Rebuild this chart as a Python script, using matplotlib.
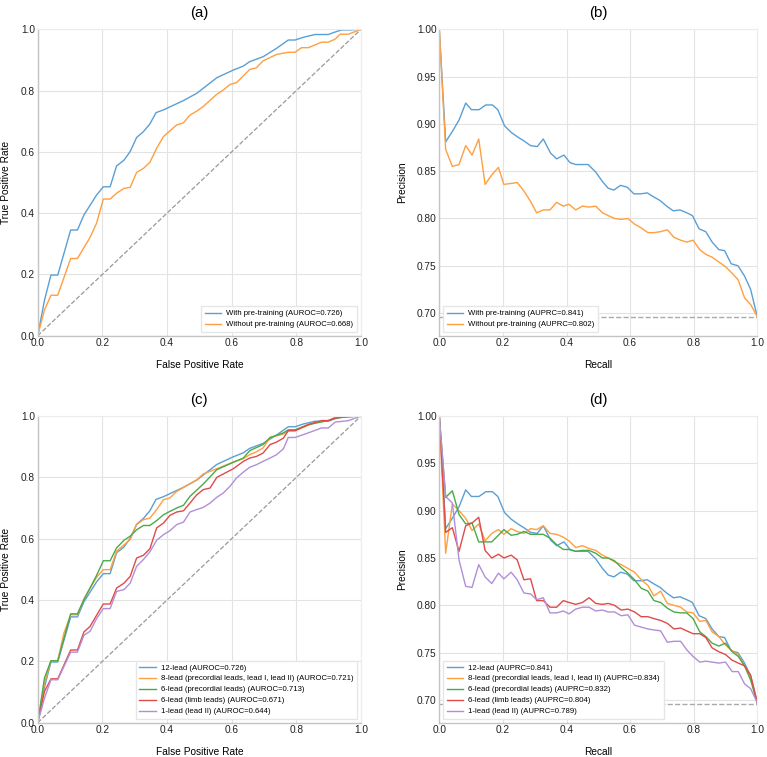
import numpy as np
import matplotlib
matplotlib.use("Agg")
import matplotlib.pyplot as plt

plt.rcParams['font.family'] = ['Liberation Sans', 'DejaVu Sans']

# ---------------- ROC data ----------------
roc_12_fpr = [0, 0.021, 0.041, 0.062, 0.102, 0.123, 0.143, 0.182, 0.203, 0.224, 0.244, 0.267, 0.286, 0.306, 0.327, 0.347, 0.366, 0.389, 0.45, 0.492, 0.554, 0.605, 0.636, 0.655, 0.698, 0.739, 0.775, 0.796, 0.822, 0.858, 0.899, 0.914, 0.940, 0.966, 1.0]
roc_12_tpr = [0, 0.116, 0.198, 0.198, 0.345, 0.345, 0.394, 0.459, 0.486, 0.486, 0.554, 0.573, 0.601, 0.647, 0.666, 0.691, 0.728, 0.737, 0.767, 0.791, 0.842, 0.867, 0.880, 0.894, 0.911, 0.938, 0.965, 0.965, 0.974, 0.983, 0.983, 0.989, 0.998, 0.998, 1.0]

roc_np_fpr = [0, 0.021, 0.041, 0.062, 0.081, 0.102, 0.123, 0.162, 0.182, 0.203, 0.224, 0.244, 0.267, 0.286, 0.306, 0.327, 0.347, 0.368, 0.389, 0.430, 0.451, 0.471, 0.492, 0.512, 0.554, 0.574, 0.595, 0.615, 0.656, 0.676, 0.697, 0.739, 0.775, 0.796, 0.816, 0.837, 0.878, 0.899, 0.920, 0.935, 0.961, 1.0]
roc_np_tpr = [0, 0.084, 0.132, 0.132, 0.189, 0.252, 0.252, 0.321, 0.367, 0.446, 0.446, 0.465, 0.481, 0.484, 0.533, 0.546, 0.566, 0.612, 0.650, 0.688, 0.695, 0.720, 0.733, 0.748, 0.788, 0.802, 0.820, 0.826, 0.869, 0.874, 0.897, 0.918, 0.925, 0.925, 0.940, 0.940, 0.958, 0.958, 0.968, 0.984, 0.984, 1.0]

roc_8_fpr = [0, 0.021, 0.041, 0.062, 0.081, 0.102, 0.123, 0.143, 0.182, 0.203, 0.224, 0.244, 0.267, 0.286, 0.306, 0.327, 0.347, 0.368, 0.389, 0.409, 0.430, 0.451, 0.492, 0.512, 0.554, 0.605, 0.636, 0.656, 0.676, 0.697, 0.719, 0.760, 0.775, 0.796, 0.837, 0.878, 0.899, 0.920, 0.961, 1.0]
roc_8_tpr = [0, 0.130, 0.202, 0.202, 0.292, 0.352, 0.352, 0.404, 0.474, 0.499, 0.499, 0.559, 0.580, 0.597, 0.646, 0.662, 0.667, 0.695, 0.727, 0.733, 0.754, 0.767, 0.792, 0.811, 0.828, 0.850, 0.861, 0.874, 0.883, 0.896, 0.930, 0.941, 0.952, 0.952, 0.970, 0.985, 0.985, 0.996, 0.998, 1.0]

roc_6p_fpr = [0, 0.021, 0.041, 0.062, 0.102, 0.123, 0.143, 0.182, 0.203, 0.224, 0.244, 0.267, 0.286, 0.306, 0.327, 0.347, 0.368, 0.389, 0.409, 0.430, 0.451, 0.471, 0.512, 0.554, 0.605, 0.636, 0.656, 0.697, 0.719, 0.760, 0.775, 0.796, 0.837, 0.899, 0.920, 0.961, 1.0]
roc_6p_tpr = [0, 0.146, 0.202, 0.202, 0.355, 0.355, 0.401, 0.480, 0.528, 0.528, 0.570, 0.595, 0.608, 0.629, 0.643, 0.643, 0.659, 0.678, 0.689, 0.700, 0.709, 0.738, 0.778, 0.825, 0.849, 0.863, 0.887, 0.907, 0.930, 0.945, 0.955, 0.955, 0.972, 0.985, 0.993, 0.998, 1.0]

roc_6l_fpr = [0, 0.021, 0.041, 0.062, 0.102, 0.123, 0.143, 0.162, 0.182, 0.203, 0.224, 0.244, 0.267, 0.286, 0.306, 0.327, 0.347, 0.368, 0.389, 0.409, 0.430, 0.451, 0.471, 0.492, 0.512, 0.533, 0.554, 0.574, 0.605, 0.636, 0.656, 0.676, 0.697, 0.719, 0.739, 0.760, 0.775, 0.796, 0.837, 0.878, 0.899, 0.920, 0.961, 1.0]
roc_6l_tpr = [0, 0.102, 0.143, 0.143, 0.237, 0.237, 0.296, 0.314, 0.350, 0.387, 0.387, 0.439, 0.455, 0.477, 0.537, 0.546, 0.567, 0.635, 0.651, 0.676, 0.687, 0.691, 0.716, 0.743, 0.760, 0.765, 0.800, 0.811, 0.828, 0.852, 0.863, 0.868, 0.879, 0.907, 0.915, 0.928, 0.952, 0.952, 0.972, 0.985, 0.985, 0.993, 0.998, 1.0]

roc_1_fpr = [0, 0.021, 0.041, 0.062, 0.102, 0.123, 0.143, 0.162, 0.182, 0.203, 0.224, 0.244, 0.267, 0.286, 0.306, 0.327, 0.347, 0.368, 0.389, 0.409, 0.430, 0.451, 0.471, 0.492, 0.512, 0.533, 0.554, 0.574, 0.595, 0.615, 0.636, 0.656, 0.676, 0.697, 0.719, 0.739, 0.760, 0.775, 0.796, 0.837, 0.878, 0.899, 0.920, 0.961, 1.0]
roc_1_tpr = [0, 0.080, 0.140, 0.140, 0.230, 0.230, 0.285, 0.298, 0.339, 0.372, 0.372, 0.428, 0.434, 0.455, 0.510, 0.532, 0.557, 0.595, 0.613, 0.626, 0.646, 0.654, 0.687, 0.695, 0.702, 0.716, 0.735, 0.749, 0.771, 0.798, 0.817, 0.833, 0.841, 0.852, 0.863, 0.874, 0.893, 0.930, 0.930, 0.945, 0.961, 0.961, 0.980, 0.985, 1.0]

# ---------------- PR data ----------------
pr_12_rec = [0, 0.020, 0.041, 0.062, 0.083, 0.101, 0.125, 0.146, 0.167, 0.184, 0.205, 0.226, 0.247, 0.266, 0.287, 0.308, 0.327, 0.350, 0.369, 0.392, 0.411, 0.429, 0.468, 0.492, 0.513, 0.531, 0.549, 0.570, 0.591, 0.612, 0.633, 0.654, 0.673, 0.694, 0.715, 0.736, 0.757, 0.778, 0.796, 0.817, 0.838, 0.858, 0.879, 0.897, 0.918, 0.939, 0.960, 0.979, 1.0]
pr_12_prec = [1.0, 0.881, 0.892, 0.904, 0.922, 0.915, 0.915, 0.920, 0.920, 0.915, 0.898, 0.891, 0.886, 0.882, 0.877, 0.876, 0.884, 0.869, 0.863, 0.867, 0.859, 0.857, 0.857, 0.849, 0.839, 0.832, 0.830, 0.835, 0.833, 0.826, 0.826, 0.827, 0.823, 0.819, 0.813, 0.808, 0.809, 0.806, 0.803, 0.789, 0.786, 0.775, 0.767, 0.766, 0.752, 0.750, 0.739, 0.725, 0.696]

pr_np_rec = [0, 0.020, 0.041, 0.062, 0.083, 0.103, 0.124, 0.144, 0.165, 0.186, 0.203, 0.226, 0.245, 0.266, 0.287, 0.306, 0.327, 0.348, 0.369, 0.390, 0.408, 0.429, 0.450, 0.471, 0.492, 0.513, 0.531, 0.551, 0.572, 0.593, 0.614, 0.635, 0.656, 0.675, 0.696, 0.717, 0.738, 0.759, 0.778, 0.798, 0.819, 0.838, 0.858, 0.879, 0.900, 0.921, 0.940, 0.960, 0.979, 1.0]
pr_np_prec = [1.0, 0.873, 0.855, 0.857, 0.877, 0.867, 0.884, 0.836, 0.846, 0.854, 0.836, 0.837, 0.838, 0.829, 0.818, 0.806, 0.809, 0.809, 0.817, 0.813, 0.815, 0.809, 0.813, 0.812, 0.813, 0.806, 0.803, 0.800, 0.799, 0.800, 0.794, 0.790, 0.785, 0.785, 0.786, 0.788, 0.780, 0.777, 0.775, 0.777, 0.767, 0.762, 0.759, 0.754, 0.749, 0.742, 0.735, 0.716, 0.709, 0.696]

pr_rec = [0, 0.020, 0.041, 0.062, 0.083, 0.103, 0.124, 0.144, 0.165, 0.186, 0.203, 0.226, 0.245, 0.266, 0.287, 0.306, 0.327, 0.348, 0.369, 0.390, 0.408, 0.429, 0.450, 0.471, 0.492, 0.513, 0.531, 0.551, 0.572, 0.593, 0.614, 0.635, 0.656, 0.675, 0.696, 0.717, 0.738, 0.759, 0.778, 0.798, 0.819, 0.838, 0.858, 0.879, 0.900, 0.921, 0.940, 0.960, 0.979, 1.0]
pr_8_prec = [1.0, 0.855, 0.907, 0.900, 0.892, 0.879, 0.886, 0.868, 0.876, 0.880, 0.875, 0.881, 0.878, 0.876, 0.881, 0.880, 0.884, 0.876, 0.875, 0.872, 0.868, 0.861, 0.863, 0.860, 0.858, 0.853, 0.850, 0.846, 0.843, 0.839, 0.835, 0.827, 0.821, 0.810, 0.815, 0.802, 0.800, 0.798, 0.793, 0.792, 0.783, 0.784, 0.772, 0.767, 0.758, 0.752, 0.748, 0.736, 0.726, 0.697]
pr_6p_prec = [1.0, 0.914, 0.921, 0.896, 0.886, 0.887, 0.867, 0.867, 0.867, 0.874, 0.880, 0.874, 0.875, 0.878, 0.875, 0.875, 0.875, 0.871, 0.864, 0.859, 0.859, 0.857, 0.858, 0.858, 0.855, 0.850, 0.850, 0.847, 0.840, 0.834, 0.827, 0.818, 0.815, 0.805, 0.803, 0.797, 0.793, 0.792, 0.792, 0.786, 0.772, 0.767, 0.760, 0.757, 0.760, 0.751, 0.746, 0.736, 0.721, 0.697]
pr_6l_prec = [1.0, 0.877, 0.882, 0.857, 0.884, 0.887, 0.893, 0.858, 0.850, 0.854, 0.850, 0.853, 0.848, 0.827, 0.828, 0.805, 0.805, 0.798, 0.798, 0.805, 0.803, 0.801, 0.803, 0.808, 0.802, 0.801, 0.802, 0.800, 0.795, 0.796, 0.793, 0.788, 0.788, 0.786, 0.784, 0.781, 0.775, 0.776, 0.773, 0.770, 0.770, 0.766, 0.755, 0.751, 0.748, 0.742, 0.739, 0.736, 0.726, 0.697]
pr_1_prec = [1.0, 0.915, 0.908, 0.848, 0.820, 0.819, 0.843, 0.830, 0.823, 0.834, 0.828, 0.835, 0.827, 0.813, 0.812, 0.806, 0.808, 0.792, 0.792, 0.794, 0.791, 0.796, 0.798, 0.798, 0.794, 0.795, 0.793, 0.793, 0.789, 0.790, 0.779, 0.777, 0.775, 0.774, 0.773, 0.761, 0.762, 0.762, 0.753, 0.746, 0.740, 0.741, 0.740, 0.739, 0.740, 0.730, 0.730, 0.717, 0.712, 0.697]

baseline = 0.696

labels_ab = ["With pre-training", "Without pre-training"]
auroc_ab = [0.726, 0.668]
auprc_ab = [0.841, 0.802]
labels_cd = ["12-lead", "8-lead (precordial leads, lead I, lead II)", "6-lead (precordial leads)",
             "6-lead (limb leads)", "1-lead (lead II)"]
auroc_cd = [0.726, 0.721, 0.713, 0.671, 0.644]
auprc_cd = [0.841, 0.834, 0.832, 0.804, 0.789]

colors = ['#5a9fd4', '#ff9f3f', '#4aaa4a', '#e04a4a', '#b08fd8']

TICK_FS = 7.3
LABEL_FS = 7.3
TITLE_FS = 10.8
LEG_FS = 5.6

fig = plt.figure(figsize=(7.67, 7.57), dpi=100)
W, H = 767.0, 757.0


def make_ax(l, r, t, b):
    return fig.add_axes([l / W, 1 - b / H, (r - l) / W, (b - t) / H])


axA = make_ax(37.7, 361.0, 29.3, 335.7)
axB = make_ax(439.3, 757.3, 29.3, 335.7)
axC = make_ax(37.7, 361.0, 416.0, 722.7)
axD = make_ax(439.3, 757.3, 416.0, 722.7)


def style(ax, title, xlabel, ylabel, ylabelpad):
    ax.set_facecolor('white')
    ax.grid(True, color='#e3e3e3', linewidth=0.8)
    ax.set_axisbelow(True)
    for s in ['left', 'bottom']:
        ax.spines[s].set_color('#c4c4c4')
        ax.spines[s].set_linewidth(1.0)
    for s in ['top', 'right']:
        ax.spines[s].set_color('#ececec')
        ax.spines[s].set_linewidth(0.8)
    ax.tick_params(length=0, labelsize=TICK_FS, pad=2, colors='#222222')
    ax.set_title(title, fontsize=TITLE_FS, pad=9)
    ax.set_xlabel(xlabel, fontsize=LABEL_FS, labelpad=8)
    ax.set_ylabel(ylabel, fontsize=LABEL_FS, labelpad=ylabelpad)


def legend(ax, loc):
    ax.legend(loc=loc, fontsize=LEG_FS, frameon=True, edgecolor='#e6e6e6', fancybox=False,
              borderpad=0.45, handlelength=2.1, labelspacing=0.45, borderaxespad=0.5,
              handletextpad=0.7, framealpha=1.0)


# (a)
for fpr, tpr, lab, auc, c in zip([roc_12_fpr, roc_np_fpr], [roc_12_tpr, roc_np_tpr], labels_ab, auroc_ab, colors):
    axA.plot(fpr, tpr, color=c, lw=1.0, label=f"{lab} (AUROC={auc:.3f})")
axA.plot([0, 1], [0, 1], ls='--', color='#999999', lw=0.9)
axA.set_xlim(0, 1)
axA.set_ylim(0, 1)
axA.set_xticks(np.arange(0, 1.01, 0.2))
axA.set_yticks(np.arange(0, 1.01, 0.2))
style(axA, "(a)", "False Positive Rate", "True Positive Rate", 7)
legend(axA, 'lower right')

# (b)
for rec, prec, lab, auc, c in zip([pr_12_rec, pr_np_rec], [pr_12_prec, pr_np_prec], labels_ab, auprc_ab, colors):
    axB.plot(rec, prec, color=c, lw=1.0, label=f"{lab} (AUPRC={auc:.3f})")
axB.axhline(baseline, ls='--', color='#aaaaaa', lw=1.0)
axB.set_xlim(0, 1)
axB.set_ylim(baseline - 0.02, 1.0)
axB.set_xticks(np.arange(0, 1.01, 0.2))
axB.set_yticks(np.arange(0.70, 1.001, 0.05))
axB.set_yticklabels([f"{v:.2f}" for v in np.arange(0.70, 1.001, 0.05)])
style(axB, "(b)", "Recall", "Precision", 7)
legend(axB, 'lower left')

# (c)
roc_fprs = [roc_12_fpr, roc_8_fpr, roc_6p_fpr, roc_6l_fpr, roc_1_fpr]
roc_tprs = [roc_12_tpr, roc_8_tpr, roc_6p_tpr, roc_6l_tpr, roc_1_tpr]
for fpr, tpr, lab, auc, c in zip(roc_fprs, roc_tprs, labels_cd, auroc_cd, colors):
    axC.plot(fpr, tpr, color=c, lw=1.0, label=f"{lab} (AUROC={auc:.3f})")
axC.plot([0, 1], [0, 1], ls='--', color='#999999', lw=0.9)
axC.set_xlim(0, 1)
axC.set_ylim(0, 1)
axC.set_xticks(np.arange(0, 1.01, 0.2))
axC.set_yticks(np.arange(0, 1.01, 0.2))
style(axC, "(c)", "False Positive Rate", "True Positive Rate", 7)
legend(axC, 'lower right')

# (d)
pr_recs = [pr_12_rec, pr_rec, pr_rec, pr_rec, pr_rec]
pr_precs = [pr_12_prec, pr_8_prec, pr_6p_prec, pr_6l_prec, pr_1_prec]
for rec, prec, lab, auc, c in zip(pr_recs, pr_precs, labels_cd, auprc_cd, colors):
    axD.plot(rec, prec, color=c, lw=1.0, label=f"{lab} (AUPRC={auc:.3f})")
axD.axhline(baseline, ls='--', color='#aaaaaa', lw=1.0)
axD.set_xlim(0, 1)
axD.set_ylim(baseline - 0.02, 1.0)
axD.set_xticks(np.arange(0, 1.01, 0.2))
axD.set_yticks(np.arange(0.70, 1.001, 0.05))
axD.set_yticklabels([f"{v:.2f}" for v in np.arange(0.70, 1.001, 0.05)])
style(axD, "(d)", "Recall", "Precision", 7)
legend(axD, 'lower left')

fig.savefig("out.png", dpi=100, facecolor='white')
